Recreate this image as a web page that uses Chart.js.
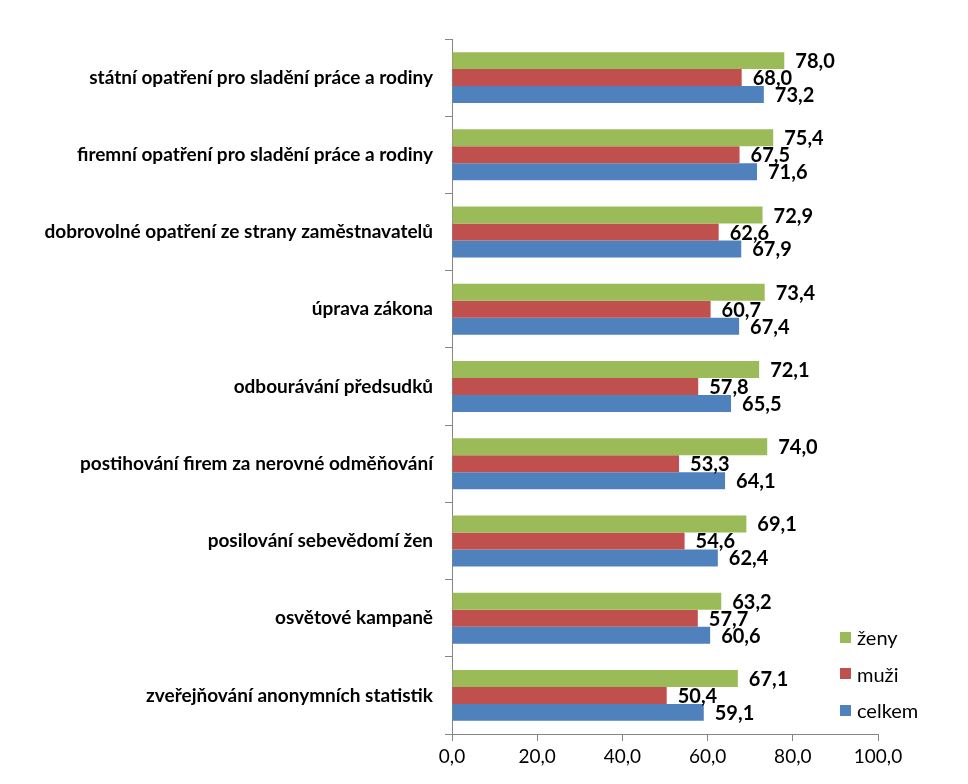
<!DOCTYPE html>
<html>
<head>
<meta charset="utf-8">
<script src="https://cdn.jsdelivr.net/npm/chart.js@4/dist/chart.umd.min.js"></script>
<style>
    html, body { margin: 0; padding: 0; background: #fff; }
    #wrap { position: relative; width: 968px; height: 784px; }
    #legend { position: absolute; left: 840px; top: 619px; font-family: Lato, sans-serif; font-size: 20px; color: #000; }
    .leg-item { height: 36.5px; display: flex; align-items: center; }
    .leg-box { width: 11px; height: 11px; margin-right: 6px; }
</style>
</head>
<body>
<div id="wrap">
    <canvas id="chart" width="968" height="784"></canvas>
    <div id="legend"></div>
</div>
<script>
// Data
const categories = [
    'státní opatření pro sladění práce a rodiny',
    'firemní opatření pro sladění práce a rodiny',
    'dobrovolné opatření ze strany zaměstnavatelů',
    'úprava zákona',
    'odbourávání předsudků',
    'postihování firem za nerovné odměňování',
    'posilování sebevědomí žen',
    'osvětové kampaně',
    'zveřejňování anonymních statistik'
];
const zeny = [78.0, 75.4, 72.9, 73.4, 72.1, 74.0, 69.1, 63.2, 67.1];
const muzi = [68.0, 67.5, 62.6, 60.7, 57.8, 53.3, 54.6, 57.7, 50.4];
const celkem = [73.2, 71.6, 67.9, 67.4, 65.5, 64.1, 62.4, 60.6, 59.1];
const seriesNames = ['ženy', 'muži', 'celkem'];
const seriesColors = ['#9BBB59', '#C0504D', '#4F81BD'];

const fmt = v => v.toFixed(1).replace('.', ',');

// value labels next to bar ends
const valueLabels = {
    id: 'valueLabels',
    afterDatasetsDraw(chart) {
        const ctx = chart.ctx;
        ctx.save();
        ctx.font = 'bold 20px Lato, sans-serif';
        ctx.fillStyle = '#000';
        ctx.textBaseline = 'middle';
        ctx.textAlign = 'left';
        chart.data.datasets.forEach((ds, i) => {
            chart.getDatasetMeta(i).data.forEach((bar, j) => {
                ctx.fillText(fmt(ds.data[j]), bar.x + 11, bar.y + 1);
            });
        });
        ctx.restore();
    }
};

const chart = new Chart(document.getElementById('chart').getContext('2d'), {
    type: 'bar',
    data: {
        labels: categories,
        datasets: [
            { label: seriesNames[0], data: zeny, backgroundColor: seriesColors[0] },
            { label: seriesNames[1], data: muzi, backgroundColor: seriesColors[1] },
            { label: seriesNames[2], data: celkem, backgroundColor: seriesColors[2] }
        ]
    },
    options: {
        indexAxis: 'y',
        responsive: false,
        animation: false,
        layout: { padding: { top: 39, right: 90, left: 0, bottom: 0 } },
        datasets: { bar: { categoryPercentage: 0.66, barPercentage: 1.0 } },
        scales: {
            x: {
                min: 0, max: 100,
                ticks: { stepSize: 20, callback: v => fmt(v), color: '#000', font: { family: 'Lato', size: 19 }, padding: 4 },
                grid: { drawOnChartArea: false, drawTicks: true, tickLength: 7, color: '#868686' },
                border: { color: '#868686' },
                afterFit: s => { s.height = 50; }
            },
            y: {
                ticks: { color: '#000', font: { family: 'Lato', size: 19, weight: 'bold' }, padding: 12 },
                grid: { drawOnChartArea: false, drawTicks: true, tickLength: 7, color: '#868686' },
                border: { color: '#868686' },
                afterFit: s => { s.width = 452; }
            }
        },
        plugins: { legend: { display: false }, tooltip: { enabled: false } }
    },
    plugins: [valueLabels]
});

// legend
const legend = document.getElementById('legend');
chart.data.datasets.forEach(ds => {
    const item = document.createElement('div');
    item.className = 'leg-item';
    item.innerHTML = `<span class="leg-box" style="background:${ds.backgroundColor}"></span>${ds.label}`;
    legend.appendChild(item);
});
</script>
</body>
</html>
